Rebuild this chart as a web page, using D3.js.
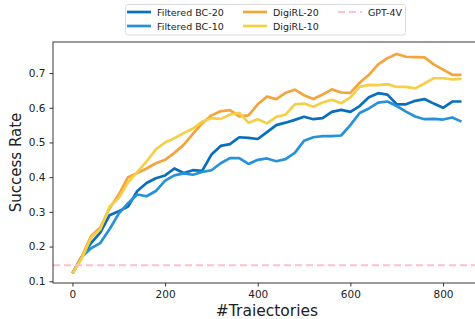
<!DOCTYPE html>
<html>
<head>
<meta charset="utf-8">
<script src="https://cdn.jsdelivr.net/npm/d3@7"></script>
<style>
  body { margin: 0; background: #fff; }
  text { font-family: "DejaVu Sans", sans-serif; fill: #222; }
</style>
</head>
<body>
<div id="chart"></div>
<script>
// trajectories sampled every 20
const trajectories = d3.range(0, 841, 20)

const filtered_bc_20 = [0.123, 0.17, 0.21, 0.24, 0.29, 0.302, 0.315, 0.36, 0.383, 0.397,
  0.405, 0.425, 0.412, 0.42, 0.418, 0.465, 0.49, 0.495, 0.515, 0.513,
  0.51, 0.53, 0.55, 0.557, 0.565, 0.574, 0.567, 0.57, 0.588, 0.594,
  0.588, 0.605, 0.63, 0.642, 0.638, 0.61, 0.61, 0.62, 0.625, 0.612,
  0.6, 0.618, 0.618]
const filtered_bc_10 = [0.123, 0.17, 0.195, 0.21, 0.25, 0.295, 0.325, 0.35, 0.345, 0.36,
  0.39, 0.405, 0.411, 0.407, 0.415, 0.42, 0.44, 0.455, 0.455, 0.438,
  0.45, 0.454, 0.446, 0.452, 0.47, 0.505, 0.515, 0.518, 0.518, 0.52,
  0.55, 0.585, 0.598, 0.615, 0.618, 0.605, 0.589, 0.575, 0.567, 0.568,
  0.566, 0.572, 0.56]
const digirl_20 = [0.123, 0.17, 0.23, 0.255, 0.31, 0.35, 0.40, 0.412, 0.425, 0.44,
  0.45, 0.47, 0.493, 0.525, 0.555, 0.578, 0.59, 0.593, 0.575, 0.578,
  0.61, 0.632, 0.625, 0.643, 0.652, 0.636, 0.625, 0.638, 0.653, 0.644,
  0.643, 0.672, 0.695, 0.725, 0.743, 0.755, 0.747, 0.746, 0.745, 0.725,
  0.71, 0.695, 0.695]
const digirl_10 = [0.123, 0.165, 0.225, 0.25, 0.315, 0.34, 0.385, 0.415, 0.445, 0.48,
  0.50, 0.512, 0.527, 0.54, 0.56, 0.57, 0.568, 0.58, 0.585, 0.557,
  0.567, 0.555, 0.574, 0.58, 0.61, 0.612, 0.603, 0.615, 0.623, 0.613,
  0.63, 0.66, 0.666, 0.665, 0.668, 0.66, 0.66, 0.656, 0.67, 0.685,
  0.685, 0.682, 0.683]
const gpt4v = 0.146

const x_ticks = [0, 200, 400, 600, 800]
const y_ticks = [0.1, 0.2, 0.3, 0.4, 0.5, 0.6, 0.7]

const series = [
  {name: 'Filtered BC-20', values: filtered_bc_20, color: '#0a6fbb'},
  {name: 'Filtered BC-10', values: filtered_bc_10, color: '#2792d8'},
  {name: 'DigiRL-20', values: digirl_20, color: '#f4a43c'},
  {name: 'DigiRL-10', values: digirl_10, color: '#f3d048'}
]

const width = 475, height = 319
const margin = {top: 42, left: 53, right: -6, bottom: 36}

const svg = d3.select('#chart').append('svg')
  .attr('width', width)
  .attr('height', height)

const x = d3.scaleLinear()
  .domain([-42, 882])
  .range([margin.left, width - margin.right])

const y = d3.scaleLinear()
  .domain([0.095, 0.7895])
  .range([height - margin.bottom, margin.top])

// lines
const line = d3.line()
  .x((d, i) => x(trajectories[i]))
  .y(d => y(d))

const plot = svg.append('g')
for (var s of series) {
  plot.append('path')
    .datum(s.values)
    .attr('fill', 'none')
    .attr('stroke', s.color)
    .attr('stroke-width', 2.7)
    .attr('stroke-linejoin', 'round')
    .attr('d', line)
}
plot.append('line')
  .attr('x1', x(-42)).attr('x2', x(882))
  .attr('y1', y(gpt4v)).attr('y2', y(gpt4v))
  .attr('stroke', '#ffc0cb')
  .attr('stroke-width', 2)
  .attr('stroke-dasharray', '7,4')

// axes
const xAxis = svg.append('g')
  .attr('transform', 'translate(0,' + (height - margin.bottom) + ')')
  .call(d3.axisBottom(x).tickValues(x_ticks).tickSize(3.5).tickPadding(4))
const yAxis = svg.append('g')
  .attr('transform', 'translate(' + margin.left + ',0)')
  .call(d3.axisLeft(y).tickValues(y_ticks).tickFormat(d3.format('.1f')).tickSize(3.5).tickPadding(4))

for (var ax of [xAxis, yAxis]) {
  ax.select('.domain').remove()
  ax.selectAll('text').attr('font-size', 10.5).attr('font-family', '"DejaVu Sans", sans-serif').attr('fill', '#222')
  ax.selectAll('line').attr('stroke', '#222').attr('stroke-width', 0.9)
}

// frame
svg.append('rect')
  .attr('x', x(-42)).attr('y', margin.top)
  .attr('width', x(882) - x(-42))
  .attr('height', height - margin.bottom - margin.top)
  .attr('fill', 'none')
  .attr('stroke', '#222')
  .attr('stroke-width', 0.9)

// axis labels
svg.append('text')
  .text('#Traiectories')
  .attr('x', (margin.left + x(882)) / 2)
  .attr('y', 316)
  .attr('text-anchor', 'middle')
  .attr('font-size', 15.5)
svg.append('text')
  .text('Success Rate')
  .attr('transform', 'translate(21,' + ((margin.top + height - margin.bottom) / 2) + ') rotate(-90)')
  .attr('text-anchor', 'middle')
  .attr('font-size', 15)

// legend
const legend = svg.append('g')
legend.append('rect')
  .attr('x', 125.5).attr('y', 4.5)
  .attr('width', 280).attr('height', 30.5)
  .attr('rx', 2.5)
  .attr('fill', '#fff')
  .attr('stroke', '#d8d8d8')
  .attr('stroke-width', 0.9)

const legend_items = series.map(s => ({name: s.name, color: s.color, dash: null}))
  .concat([{name: 'GPT-4V', color: '#ffc0cb', dash: '7,4'}])
const col_x = [127, 243, 338]
legend_items.forEach((d, i) => {
  const cx = col_x[Math.floor(i / 2)]
  const cy = 12 + (i % 2) * 14
  legend.append('line')
    .attr('x1', cx).attr('x2', cx + 24)
    .attr('y1', cy).attr('y2', cy)
    .attr('stroke', d.color)
    .attr('stroke-width', d.dash ? 2 : 2.7)
    .attr('stroke-dasharray', d.dash)
  legend.append('text')
    .text(d.name)
    .attr('x', cx + 30)
    .attr('y', cy + 3.5)
    .attr('font-size', 9.5)
})
</script>
</body>
</html>
